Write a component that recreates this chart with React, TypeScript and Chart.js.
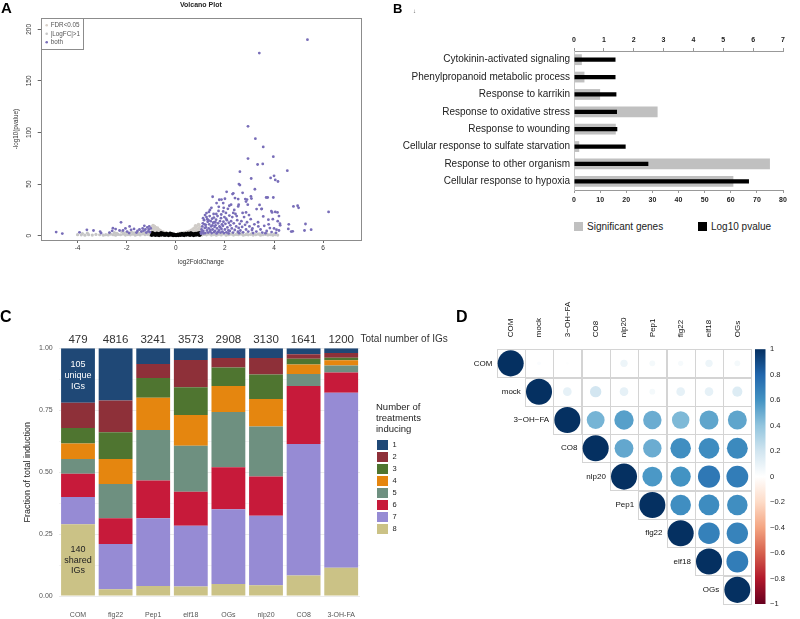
import React, { useEffect, useRef } from "react";
import { Chart, registerables } from "chart.js";

Chart.register(...registerables);

const FONT = "'Liberation Sans', Arial, Helvetica, sans-serif";

// ---------------- Panel A: volcano plot ----------------
const VOLCANO_BOTH: [number, number][] = [
  [5.36, 190], [3.4, 177], [2.94, 106], [3.24, 94], [3.56, 86], [3.97, 76.6], [2.94, 74.7], [3.33, 69], [3.54, 69.5],
  [4.54, 63], [2.61, 62], [3.07, 55.4], [3.86, 56], [4.0, 58], [4.05, 54], [4.16, 52.5], [2.57, 50], [2.61, 49],
  [3.22, 45], [2.07, 42.5], [2.34, 41], [2.72, 41.5], [3.06, 38], [3.08, 36], [1.5, 37.7], [2.0, 35.8], [1.86, 35],
  [2.54, 35.5], [3.68, 37], [3.74, 37], [3.97, 37], [2.9, 35], [2.93, 30], [2.86, 33], [1.66, 31.6], [2.25, 30],
  [2.56, 30], [3.41, 29.8], [3.5, 26], [4.79, 28.3], [4.96, 29], [5.0, 27], [3.89, 23.8], [4.05, 23], [4.2, 19],
  [6.22, 23], [5.28, 11.3], [5.51, 5.8], [5.24, 5], [4.6, 11], [4.58, 6.5], [4.7, 4], [4.25, 10], [4.2, 5],
  [2.31, 40.3], [1.77, 34.8], [1.93, 31.6], [2.41, 36.4], [2.83, 35.5], [2.18, 29], [2.54, 28.3], [3.29, 25.8],
  [3.49, 25.8], [3.92, 22.5], [4.14, 22.5], [1.25, 21.9], [1.39, 25], [1.93, 23.5], [2.34, 22], [2.86, 22.5],
  [3.56, 18.7], [3.77, 15.5], [4.24, 11.6], [3.36, 9], [3.83, 7.4], [4.1, 5.8], [4.76, 4.2],
  [1.02, 3], [1.05, 6], [1.08, 9], [1.1, 12], [1.12, 4.5], [1.15, 15], [1.18, 7.5], [1.2, 2.5], [1.22, 10.5],
  [1.25, 18], [1.27, 5], [1.3, 13.5], [1.03, 1.8], [1.07, 3.8], [1.13, 2.2], [1.17, 11], [1.23, 8], [1.28, 16],
  [1.11, 17], [1.19, 20], [1.32, 3], [1.34, 7], [1.36, 11], [1.38, 19], [1.4, 4], [1.42, 14], [1.44, 9],
  [1.46, 2.5], [1.48, 16.5], [1.5, 6], [1.52, 12.5], [1.54, 21], [1.56, 3.5], [1.58, 8.5], [1.35, 23], [1.45, 27],
  [1.55, 17.5], [1.33, 15], [1.41, 5.5], [1.49, 10], [1.57, 13], [1.6, 4.5], [1.62, 10], [1.64, 15.5], [1.66, 2.2],
  [1.68, 7], [1.7, 19], [1.72, 12], [1.74, 24], [1.76, 5], [1.78, 9], [1.8, 14], [1.82, 3], [1.84, 17], [1.86, 6.5],
  [1.88, 11], [1.65, 21], [1.75, 28], [1.85, 20.5], [1.61, 13], [1.71, 3.5], [1.81, 8], [1.9, 4], [1.92, 9.5],
  [1.94, 13.5], [1.96, 2.5], [1.98, 18], [2.0, 6], [2.02, 11.5], [2.04, 22], [2.06, 3.2], [2.08, 15], [2.1, 8],
  [2.12, 26], [2.14, 5], [2.16, 12.5], [2.18, 19.5], [1.95, 27], [2.05, 16.5], [2.15, 2.2], [2.2, 4.5], [2.22, 10],
  [2.25, 14], [2.28, 7], [2.3, 18], [2.33, 3], [2.36, 12], [2.4, 5.5], [2.43, 21], [2.46, 9], [2.5, 15], [2.53, 3.8],
  [2.56, 7.5], [2.6, 11.5], [2.38, 25], [2.48, 19], [2.58, 2.4], [2.63, 5], [2.67, 14], [2.7, 8.5], [2.74, 3.2],
  [2.78, 18], [2.82, 10.5], [2.86, 6], [2.9, 13], [2.95, 4], [3.0, 9], [3.05, 16], [3.1, 5.5], [3.15, 2.5], [3.2, 11],
  [2.72, 22], [2.98, 20], [3.12, 7], [3.28, 4], [3.35, 13], [3.45, 6], [3.52, 3], [3.6, 9.5], [3.7, 4.5], [3.78, 11],
  [3.9, 3.5], [4.0, 7], [4.08, 2.8], [4.15, 14], [3.65, 2.4], [3.95, 16],
  [-4.87, 3.5], [-4.62, 2], [-3.92, 3.2], [-3.62, 5.7], [-3.35, 5], [-3.08, 4], [-3.04, 2.5], [-2.59, 4.7],
  [-2.23, 12.9], [-2.56, 7.3], [-2.45, 6.4], [-2.29, 5], [-2.15, 5], [-1.98, 4], [-1.82, 5.7], [-1.88, 9],
  [-1.56, 4.5], [-1.48, 6], [-1.35, 7], [-1.24, 6], [-1.16, 8], [-1.1, 6], [-1.31, 4.8], [-1.05, 3.5], [-1.2, 3],
  [-1.4, 4], [-1.02, 7], [-1.08, 9], [-1.28, 9.5], [-1.12, 4.2], [-1.6, 3], [-1.7, 6.5], [-2.05, 7], [-2.7, 3], [-1.9, 2.5],
];
const VOLCANO_LFC: [number, number][] = [
  [1.05, 0.5], [1.15, 1.2], [1.25, 0.8], [1.35, 1.5], [1.45, 0.6], [1.55, 1.1], [1.65, 0.4], [1.75, 1.3], [1.85, 0.7],
  [1.95, 1.6], [2.05, 0.5], [2.15, 1.0], [2.25, 1.4], [2.35, 0.6], [2.45, 1.2], [2.55, 0.9], [2.65, 1.5], [2.75, 0.5],
  [2.85, 1.1], [2.95, 0.8], [3.05, 1.3], [3.15, 0.6], [3.25, 1.0], [3.35, 1.4], [3.45, 0.5], [3.55, 0.9], [3.65, 1.2],
  [3.75, 0.7], [3.85, 1.0], [3.95, 0.5], [4.05, 0.9], [4.15, 0.6], [1.1, 2.0], [1.3, 2.4], [1.5, 1.9], [1.7, 2.2],
  [1.9, 2.0], [2.1, 2.3], [2.3, 1.9], [2.5, 2.1], [2.7, 2.0], [2.9, 1.8], [3.1, 2.0], [3.4, 1.8], [3.7, 1.9], [4.0, 1.6],
  [-1.05, 0.6], [-1.15, 1.3], [-1.25, 0.9], [-1.35, 1.6], [-1.45, 0.7], [-1.55, 1.2], [-1.65, 0.5], [-1.75, 1.4],
  [-1.85, 0.8], [-1.95, 1.1], [-2.05, 0.6], [-2.15, 1.5], [-2.25, 0.9], [-2.35, 1.2], [-2.45, 0.5], [-2.55, 1.0],
  [-2.65, 1.4], [-2.75, 0.7], [-2.85, 1.0], [-2.95, 0.5], [-3.1, 0.9], [-3.25, 1.2], [-3.4, 0.6], [-3.55, 1.0],
  [-3.7, 0.5], [-3.85, 0.8], [-4.0, 1.0], [-1.1, 2.2], [-1.3, 2.6], [-1.5, 2.3], [-1.7, 2.8], [-1.9, 2.4], [-2.1, 2.6],
  [-2.4, 2.3], [-2.7, 2.5], [-3.6, 2.5], [-3.8, 2.0], [-1.2, 3.2], [-1.4, 3.6], [-1.6, 3.0], [-1.8, 3.5], [-2.0, 3.2],
  [-2.2, 3.8], [-2.5, 3.0],
];
const VOLCANO_FDR: [number, number][] = [
  [-0.98, 3], [-0.95, 5], [-0.92, 7], [-0.9, 9.5], [-0.88, 4], [-0.85, 6.5], [-0.82, 8], [-0.8, 3.5], [-0.77, 5.5],
  [-0.74, 7.5], [-0.71, 4.5], [-0.68, 6], [-0.65, 3.2], [-0.62, 5], [-0.58, 4], [-0.55, 3], [-0.5, 3.8], [-0.45, 2.8],
  [-0.4, 3.3], [-0.35, 2.6], [-0.97, 8.5], [-0.93, 10], [-0.86, 9], [0.3, 2.6], [0.35, 3.2], [0.4, 2.8], [0.45, 3.8],
  [0.5, 3.2], [0.55, 4.5], [0.6, 3.6], [0.63, 5.5], [0.66, 4.2], [0.7, 6.5], [0.73, 5], [0.76, 7.5], [0.79, 4],
  [0.82, 8.5], [0.85, 6], [0.88, 9.5], [0.9, 3.5], [0.93, 7], [0.95, 10.5], [0.97, 5], [0.99, 8], [0.8, 9.8],
  [0.92, 11], [0.86, 3], [-0.25, 2.4], [0.1, 2.2], [0.2, 2.5], [-0.1, 2.3],
];
const VOLCANO_NONE: [number, number][] = [
  [-0.98, 0.5], [-0.95, 1.6], [-0.92, 2.4], [-0.9, 0.9], [-0.86, 1.9], [-0.83, 0.4], [-0.8, 1.3], [-0.77, 2.2],
  [-0.74, 0.7], [-0.71, 1.7], [-0.68, 0.3], [-0.65, 1.1], [-0.62, 2.0], [-0.59, 0.6], [-0.56, 1.5], [-0.53, 2.3],
  [-0.5, 0.8], [-0.47, 1.8], [-0.44, 0.4], [-0.41, 1.2], [-0.38, 2.1], [-0.35, 0.7], [-0.32, 1.6], [-0.29, 0.3],
  [-0.26, 1.3], [-0.23, 2.2], [-0.2, 0.6], [-0.17, 1.9], [-0.14, 1.0], [-0.11, 0.2], [-0.08, 1.4], [-0.05, 0.5],
  [-0.02, 0.9], [0.01, 0.1], [0.04, 0.6], [0.07, 1.1], [0.1, 0.3], [0.13, 0.9], [0.16, 1.5], [0.19, 0.5], [0.22, 1.2],
  [0.25, 2.0], [0.28, 0.7], [0.31, 1.6], [0.34, 0.3], [0.37, 1.1], [0.4, 2.1], [0.43, 0.6], [0.46, 1.5], [0.49, 2.3],
  [0.52, 0.9], [0.55, 1.8], [0.58, 0.4], [0.61, 1.3], [0.64, 2.2], [0.67, 0.8], [0.7, 1.7], [0.73, 0.3], [0.76, 1.2],
  [0.79, 2.1], [0.82, 0.6], [0.85, 1.5], [0.88, 2.4], [0.91, 0.9], [0.94, 1.9], [0.97, 0.4], [0.99, 1.4],
  [-0.96, 2.8], [0.96, 2.7], [-0.6, 2.7], [0.6, 2.6],
];
const VOLCANO_X_TICKS = [-4, -2, 0, 2, 4, 6];
const VOLCANO_Y_TICKS = [0, 50, 100, 150, 200];
const VOLCANO_LEGEND = ["FDR<0.05", "|LogFC|>1", "both"];

// ---------------- Panel B: GO enrichment ----------------
const GO_TERMS = [
  "Cytokinin-activated signaling",
  "Phenylpropanoid metabolic process",
  "Response to karrikin",
  "Response to oxidative stress",
  "Response to wounding",
  "Cellular response to sulfate starvation",
  "Response to other organism",
  "Cellular response to hypoxia",
];
const GO_GENES = [3, 4, 10, 32, 16, 2, 75, 61];
const GO_LOG10P = [1.39, 1.39, 1.42, 1.44, 1.45, 1.73, 2.49, 5.86];

// ---------------- Panel C: stacked fractions ----------------
const IG_TREATMENTS = ["COM", "flg22", "Pep1", "elf18", "OGs", "nlp20", "CO8", "3-OH-FA"];
const IG_TOTALS = [479, 4816, 3241, 3573, 2908, 3130, 1641, 1200];
const IG_FRAC_1 = [0.22, 0.211, 0.063, 0.047, 0.039, 0.039, 0.024, 0.019];
const IG_FRAC_2 = [0.102, 0.128, 0.057, 0.11, 0.039, 0.067, 0.018, 0.019];
const IG_FRAC_3 = [0.062, 0.108, 0.08, 0.112, 0.074, 0.099, 0.023, 0.01];
const IG_FRAC_4 = [0.063, 0.101, 0.13, 0.124, 0.105, 0.111, 0.039, 0.021];
const IG_FRAC_5 = [0.059, 0.138, 0.204, 0.186, 0.223, 0.202, 0.048, 0.029];
const IG_FRAC_6 = [0.094, 0.104, 0.152, 0.137, 0.17, 0.158, 0.234, 0.081];
const IG_FRAC_7 = [0.11, 0.183, 0.274, 0.246, 0.302, 0.281, 0.531, 0.707];
const IG_FRAC_8 = [0.29, 0.027, 0.04, 0.038, 0.048, 0.043, 0.083, 0.114];
const IG_LEVELS = ["1", "2", "3", "4", "5", "6", "7", "8"];
const IG_COLORS = ["#1F4876", "#8E3039", "#4F7530", "#E5860F", "#6E9080", "#C71A3A", "#968BD4", "#CBC286"];
const IG_Y_TICKS = [0, 0.125, 0.25, 0.375, 0.5, 0.625, 0.75, 0.875, 1];
const IG_UNIQUE_LABEL = ["105", "unique", "IGs"];
const IG_SHARED_LABEL = ["140", "shared", "IGs"];

// ---------------- Panel D: correlation matrix ----------------
const CORR_LABELS = ["COM", "mock", "3\u2212OH\u2212FA", "CO8", "nlp20", "Pep1", "flg22", "elf18", "OGs"];
const CORR_COM = [1, 0.02, 0.01, 0.0, 0.08, 0.05, 0.04, 0.08, 0.05];
const CORR_MOCK = [1, 0.11, 0.19, 0.11, 0.05, 0.11, 0.11, 0.15];
const CORR_3OHFA = [1, 0.47, 0.55, 0.5, 0.45, 0.53, 0.53];
const CORR_CO8 = [1, 0.52, 0.5, 0.62, 0.63, 0.64];
const CORR_NLP20 = [1, 0.58, 0.6, 0.72, 0.7];
const CORR_PEP1 = [1, 0.62, 0.63, 0.62];
const CORR_FLG22 = [1, 0.68, 0.67];
const CORR_ELF18 = [1, 0.7];
const CORR_OGS = [1];
const CORR_ROWS = [CORR_COM, CORR_MOCK, CORR_3OHFA, CORR_CO8, CORR_NLP20, CORR_PEP1, CORR_FLG22, CORR_ELF18, CORR_OGS];
const COLORBAR_TICKS = [1, 0.8, 0.6, 0.4, 0.2, 0, -0.2, -0.4, -0.6, -0.8, -1];
const RDBU = ["#67001F", "#B2182B", "#D6604D", "#F4A582", "#FDDBC7", "#FFFFFF", "#D1E5F0", "#92C5DE", "#4393C3", "#2166AC", "#053061"];

function hexToRgb(h: string) {
  const n = parseInt(h.slice(1), 16);
  return [(n >> 16) & 255, (n >> 8) & 255, n & 255];
}
function rdbu(v: number) {
  const t = ((v + 1) / 2) * 10;
  const i = Math.max(0, Math.min(9, Math.floor(t)));
  const f = t - i;
  const a = hexToRgb(RDBU[i]);
  const b = hexToRgb(RDBU[i + 1]);
  const c = a.map((x, k) => Math.round(x + (b[k] - x) * f));
  return `rgb(${c[0]},${c[1]},${c[2]})`;
}

function ChartCanvas(props: { left: number; top: number; width: number; height: number; make: (c: HTMLCanvasElement) => Chart }) {
  const ref = useRef<HTMLCanvasElement>(null);
  useEffect(() => {
    const ch = props.make(ref.current as HTMLCanvasElement);
    return () => ch.destroy();
  }, []);
  return (
    <canvas
      ref={ref}
      width={props.width}
      height={props.height}
      style={{ position: "absolute", left: props.left, top: props.top, width: props.width, height: props.height }}
    />
  );
}

const toPts = (arr: [number, number][]) => arr.map(([x, y]) => ({ x, y }));

function makeVolcano(canvas: HTMLCanvasElement) {
  const decor = {
    id: "volcanoDecor",
    afterDraw(chart: any) {
      const { ctx, chartArea: a, scales } = chart;
      const y = scales.y;
      ctx.save();
      ctx.strokeStyle = "#8c8c8c";
      ctx.lineWidth = 1;
      ctx.strokeRect(Math.round(a.left) + 0.5, Math.round(a.top) + 0.5, Math.round(a.right - a.left), Math.round(a.bottom - a.top));
      ctx.fillStyle = "#333";
      ctx.textAlign = "center";
      ctx.textBaseline = "middle";
      ctx.font = `6.5px ${FONT}`;
      VOLCANO_Y_TICKS.forEach((v) => {
        ctx.save();
        ctx.translate(29.5, y.getPixelForValue(v));
        ctx.rotate(-Math.PI / 2);
        ctx.fillText(String(v), 0, 0);
        ctx.restore();
      });
      ctx.font = `6.3px ${FONT}`;
      ctx.save();
      ctx.translate(16, (a.top + a.bottom) / 2);
      ctx.rotate(-Math.PI / 2);
      ctx.fillText("-log10(pvalue)", 0, 0);
      ctx.restore();
      ctx.fillText("log2FoldChange", (a.left + a.right) / 2, 262);
      ctx.font = `bold 7px ${FONT}`;
      ctx.fillStyle = "#222";
      ctx.fillText("Volcano Plot", (a.left + a.right) / 2, 5);
      // legend box
      ctx.strokeStyle = "#8c8c8c";
      ctx.strokeRect(Math.round(a.left) + 0.5, Math.round(a.top) + 0.5, 42, 31);
      const cols = ["#d8d0c8", "#c6c6c6", "#786db8"];
      ctx.font = `6.3px ${FONT}`;
      ctx.textAlign = "left";
      VOLCANO_LEGEND.forEach((t, i) => {
        const yy = a.top + 7 + i * 8.5;
        ctx.fillStyle = cols[i];
        ctx.beginPath();
        ctx.arc(a.left + 6, yy, 1.3, 0, Math.PI * 2);
        ctx.fill();
        ctx.fillStyle = "#555";
        ctx.fillText(t, a.left + 10, yy);
      });
      ctx.restore();
    },
  };
  return new Chart(canvas, {
    type: "scatter",
    data: {
      datasets: [
        { label: "both", data: toPts(VOLCANO_BOTH), backgroundColor: "#786db8", pointRadius: 1.4, pointBorderWidth: 0 },
        { label: "none", data: toPts(VOLCANO_NONE), backgroundColor: "#000", pointRadius: 1.8, pointBorderWidth: 0 },
        { label: "FDR<0.05", data: toPts(VOLCANO_FDR), backgroundColor: "#d0ccc8", pointRadius: 1.6, pointBorderWidth: 0 },
        { label: "|LogFC|>1", data: toPts(VOLCANO_LFC), backgroundColor: "#c6c6c6", pointRadius: 1.6, pointBorderWidth: 0 },
      ],
    },
    options: {
      animation: false,
      responsive: false,
      events: [],
      layout: { padding: { top: 18.3, right: 9, left: 0, bottom: 0 } },
      plugins: { legend: { display: false }, tooltip: { enabled: false } },
      scales: {
        x: {
          type: "linear",
          min: -5.5,
          max: 7.54,
          afterBuildTicks: (s: any) => { s.ticks = VOLCANO_X_TICKS.map((v) => ({ value: v })); },
          afterFit: (s: any) => { s.height = 30; },
          ticks: { font: { size: 6.5, family: FONT }, color: "#333", padding: 1, maxRotation: 0, autoSkip: false },
          grid: { display: true, drawOnChartArea: false, drawTicks: true, tickLength: 3, color: "#666" },
          border: { display: false },
        },
        y: {
          type: "linear",
          min: -4.2,
          max: 210.7,
          afterBuildTicks: (s: any) => { s.ticks = VOLCANO_Y_TICKS.map((v) => ({ value: v })); },
          afterFit: (s: any) => { s.width = 40.7; },
          ticks: { display: false },
          grid: { display: true, drawOnChartArea: false, drawTicks: true, tickLength: 3, color: "#666" },
          border: { display: false },
        },
      },
    },
    plugins: [decor],
  } as any);
}

function makeGO(canvas: HTMLCanvasElement) {
  const tickFont = { size: 7, weight: "bold" as const, family: FONT };
  return new Chart(canvas, {
    type: "bar",
    data: {
      labels: GO_TERMS,
      datasets: [
        { label: "Log10 pvalue", data: GO_LOG10P, xAxisID: "x2", backgroundColor: "#000", barPercentage: 0.24, categoryPercentage: 1, grouped: false, order: 0 },
        { label: "Significant genes", data: GO_GENES, xAxisID: "x", backgroundColor: "#c0c0c0", barPercentage: 0.62, categoryPercentage: 1, grouped: false, order: 1 },
      ],
    },
    options: {
      indexAxis: "y",
      animation: false,
      responsive: false,
      events: [],
      layout: { padding: { top: 0, right: 17, left: 0, bottom: 0 } },
      plugins: { legend: { display: false }, tooltip: { enabled: false } },
      scales: {
        x: {
          type: "linear",
          position: "bottom",
          min: 0,
          max: 80,
          ticks: { stepSize: 10, font: tickFont, color: "#222", padding: 3 },
          grid: { display: true, drawOnChartArea: false, tickLength: 3, color: "#999" },
          border: { display: true, color: "#999" },
          afterFit: (s: any) => { s.height = 20; },
        },
        x2: {
          type: "linear",
          axis: "x",
          position: "top",
          min: 0,
          max: 7,
          ticks: { stepSize: 1, font: tickFont, color: "#222", padding: 4 },
          grid: { display: true, drawOnChartArea: false, tickLength: 3, color: "#999" },
          border: { display: true, color: "#999" },
          afterFit: (s: any) => { s.height = 51; },
        },
        y: {
          type: "category",
          ticks: { font: { size: 10, family: FONT }, color: "#222", padding: 4 },
          grid: { display: false, drawTicks: false },
          border: { display: true, color: "#c8c8c8" },
          afterFit: (s: any) => { s.width = 204; },
        },
      },
    },
  } as any);
}

function makeIG(canvas: HTMLCanvasElement) {
  const fracs = [IG_FRAC_1, IG_FRAC_2, IG_FRAC_3, IG_FRAC_4, IG_FRAC_5, IG_FRAC_6, IG_FRAC_7, IG_FRAC_8];
  // stacked from the bottom: level 8 first, level 1 last (on top)
  const datasets = IG_LEVELS.map((lv, i) => ({
    label: lv,
    data: fracs[i],
    backgroundColor: IG_COLORS[i],
    borderWidth: 0,
    barPercentage: 0.9,
    categoryPercentage: 1,
  })).reverse();
  const decor = {
    id: "igDecor",
    afterDraw(chart: any) {
      const { ctx, chartArea: a, scales } = chart;
      const x = scales.x, y = scales.y;
      ctx.save();
      ctx.textAlign = "center";
      ctx.textBaseline = "middle";
      ctx.fillStyle = "#333";
      ctx.font = `11.5px ${FONT}`;
      IG_TOTALS.forEach((t, i) => ctx.fillText(String(t), x.getPixelForValue(i), 19.5));
      ctx.textAlign = "left";
      ctx.font = `10px ${FONT}`;
      ctx.fillText("Total number of IGs", a.right + 0.5, 19.5);
      // y title
      ctx.textAlign = "center";
      ctx.font = `9px ${FONT}`;
      ctx.fillStyle = "#222";
      ctx.save();
      ctx.translate(28, (a.top + a.bottom) / 2);
      ctx.rotate(-Math.PI / 2);
      ctx.fillText("Fraction of total induction", 0, 0);
      ctx.restore();
      // in-bar annotations
      ctx.font = `9px ${FONT}`;
      const cx = x.getPixelForValue(0);
      const uy = y.getPixelForValue(1 - IG_FRAC_1[0] / 2);
      ctx.fillStyle = "#ffffff";
      IG_UNIQUE_LABEL.forEach((t, k) => ctx.fillText(t, cx, uy + (k - 1) * 10.7));
      const sy = y.getPixelForValue(IG_FRAC_8[0] / 2);
      ctx.fillStyle = "#222";
      IG_SHARED_LABEL.forEach((t, k) => ctx.fillText(t, cx, sy + (k - 1) * 10.7));
      ctx.restore();
    },
  };
  return new Chart(canvas, {
    type: "bar",
    data: { labels: IG_TREATMENTS, datasets },
    options: {
      animation: false,
      responsive: false,
      events: [],
      layout: { padding: { top: 28.3, right: 100, left: 0, bottom: 0 } },
      plugins: { legend: { display: false }, tooltip: { enabled: false } },
      scales: {
        x: {
          stacked: true,
          ticks: { font: { size: 7, family: FONT }, color: "#555", padding: 15, maxRotation: 0 },
          grid: { display: false, drawTicks: false },
          border: { display: false },
          afterFit: (s: any) => { s.height = 23; },
        },
        y: {
          stacked: true,
          min: 0,
          max: 1,
          afterBuildTicks: (s: any) => { s.ticks = IG_Y_TICKS.map((v) => ({ value: v })); },
          ticks: {
            font: { size: 7, family: FONT },
            color: "#555",
            padding: 6.5,
            callback: (v: any) => (Math.abs((v * 4) - Math.round(v * 4)) < 1e-6 ? Number(v).toFixed(2) : ""),
          },
          grid: {
            drawTicks: false,
            color: (c: any) => (c.tick && Math.abs(c.tick.value * 4 - Math.round(c.tick.value * 4)) < 1e-6 ? "#ebebeb" : "#f4f4f4"),
          },
          border: { display: false },
          afterFit: (s: any) => { s.width = 59.2; },
        },
      },
    },
    plugins: [decor],
  } as any);
}

function makeCorr(canvas: HTMLCanvasElement) {
  const pts: { x: number; y: number; v: number }[] = [];
  CORR_ROWS.forEach((row, i) => row.forEach((v, k) => pts.push({ x: i + k, y: i, v })));
  const n = CORR_LABELS.length;
  const decor = {
    id: "corrDecor",
    beforeDatasetsDraw(chart: any) {
      const { ctx, scales } = chart;
      const x = scales.x, y = scales.y;
      ctx.save();
      ctx.strokeStyle = "#d4d4d4";
      ctx.lineWidth = 1;
      for (let i = 0; i < n; i++) {
        for (let j = i; j < n; j++) {
          const x0 = x.getPixelForValue(j - 0.5), x1 = x.getPixelForValue(j + 0.5);
          const y0 = y.getPixelForValue(i - 0.5), y1 = y.getPixelForValue(i + 0.5);
          ctx.strokeRect(Math.round(x0) + 0.5, Math.round(y0) + 0.5, Math.round(x1 - x0), Math.round(y1 - y0));
        }
      }
      ctx.restore();
    },
    afterDraw(chart: any) {
      const { ctx, chartArea: a, scales } = chart;
      const x = scales.x, y = scales.y;
      ctx.save();
      ctx.fillStyle = "#111";
      ctx.font = `8px ${FONT}`;
      ctx.textBaseline = "middle";
      // column labels
      ctx.textAlign = "left";
      CORR_LABELS.forEach((t, j) => {
        ctx.save();
        ctx.translate(x.getPixelForValue(j), a.top - 12);
        ctx.rotate(-Math.PI / 2);
        ctx.fillText(t, 0, 0);
        ctx.restore();
      });
      // row labels
      ctx.textAlign = "right";
      CORR_LABELS.forEach((t, i) => {
        ctx.fillText(t, x.getPixelForValue(i - 0.5) - 4, y.getPixelForValue(i));
      });
      // colour bar
      const bx = a.right + 3.5, bw = 10.5;
      const g = ctx.createLinearGradient(0, a.bottom, 0, a.top);
      RDBU.forEach((c, k) => g.addColorStop(k / (RDBU.length - 1), c));
      ctx.fillStyle = g;
      ctx.fillRect(bx, a.top, bw, a.bottom - a.top);
      ctx.fillStyle = "#222";
      ctx.font = `7.5px ${FONT}`;
      ctx.textAlign = "left";
      COLORBAR_TICKS.forEach((v) => {
        const py = a.bottom - ((v + 1) / 2) * (a.bottom - a.top);
        const lab = v === 0 ? "0" : (v < 0 ? "\u2212" : "") + String(Math.abs(v));
        ctx.fillText(lab, bx + bw + 4.5, py);
      });
      ctx.restore();
    },
  };
  return new Chart(canvas, {
    type: "scatter",
    data: {
      datasets: [
        {
          data: pts,
          pointBorderWidth: 0,
          pointBackgroundColor: (c: any) => (c.raw ? rdbu(c.raw.v) : "#fff"),
          pointRadius: (c: any) => {
            if (!c.raw) return 0;
            const xs = c.chart.scales.x;
            const cell = Math.abs(xs.getPixelForValue(1) - xs.getPixelForValue(0));
            return 0.46 * cell * Math.sqrt(Math.abs(c.raw.v));
          },
        },
      ],
    },
    options: {
      animation: false,
      responsive: false,
      events: [],
      layout: { padding: { left: 41.5, top: 69.2, right: 48.5, bottom: 15 } },
      plugins: { legend: { display: false }, tooltip: { enabled: false } },
      scales: {
        x: { type: "linear", min: -0.5, max: n - 0.5, display: false },
        y: { type: "linear", min: -0.5, max: n - 0.5, reverse: true, display: false },
      },
    },
    plugins: [decor],
  } as any);
}

function Txt(props: { left: number; top: number; size: number; bold?: boolean; color?: string; children: React.ReactNode }) {
  return (
    <div
      style={{
        position: "absolute",
        left: props.left,
        top: props.top,
        fontSize: props.size,
        lineHeight: `${props.size}px`,
        fontWeight: props.bold ? "bold" : "normal",
        color: props.color || "#222",
        fontFamily: FONT,
        whiteSpace: "nowrap",
      }}
    >
      {props.children}
    </div>
  );
}

export default function App() {
  return (
    <div style={{ position: "absolute", left: 0, top: 0, width: 800, height: 619, background: "#fff", overflow: "hidden", fontFamily: FONT }}>
      <ChartCanvas left={0} top={0} width={370} height={270} make={makeVolcano} />
      <ChartCanvas left={370} top={0} width={430} height={210} make={makeGO} />
      <ChartCanvas left={0} top={320} width={460} height={299} make={makeIG} />
      <ChartCanvas left={455} top={280} width={345} height={339} make={makeCorr} />

      <Txt left={1} top={0} size={15} bold color="#000">A</Txt>
      <Txt left={393} top={2} size={13} bold color="#000">B</Txt>
      <Txt left={413} top={8} size={6} color="#555">↓</Txt>
      <Txt left={0} top={309} size={16} bold color="#000">C</Txt>
      <Txt left={456} top={309} size={16} bold color="#000">D</Txt>

      {/* Panel B legend */}
      <div style={{ position: "absolute", left: 574, top: 222, width: 9, height: 9, background: "#c0c0c0" }} />
      <Txt left={587} top={221.5} size={10}>Significant genes</Txt>
      <div style={{ position: "absolute", left: 698, top: 222, width: 9, height: 9, background: "#000" }} />
      <Txt left={711} top={221.5} size={10}>Log10 pvalue</Txt>

      {/* Panel C legend */}
      <div style={{ position: "absolute", left: 376, top: 401, fontFamily: FONT, fontSize: 9.5, lineHeight: "11px", color: "#222" }}>
        Number of<br />treatments<br />inducing
      </div>
      {IG_LEVELS.map((lv, i) => (
        <React.Fragment key={lv}>
          <div style={{ position: "absolute", left: 377, top: 439.5 + i * 12, width: 10.5, height: 10, background: IG_COLORS[i] }} />
          <Txt left={392.5} top={440.5 + i * 12} size={7.5}>{lv}</Txt>
        </React.Fragment>
      ))}
    </div>
  );
}
